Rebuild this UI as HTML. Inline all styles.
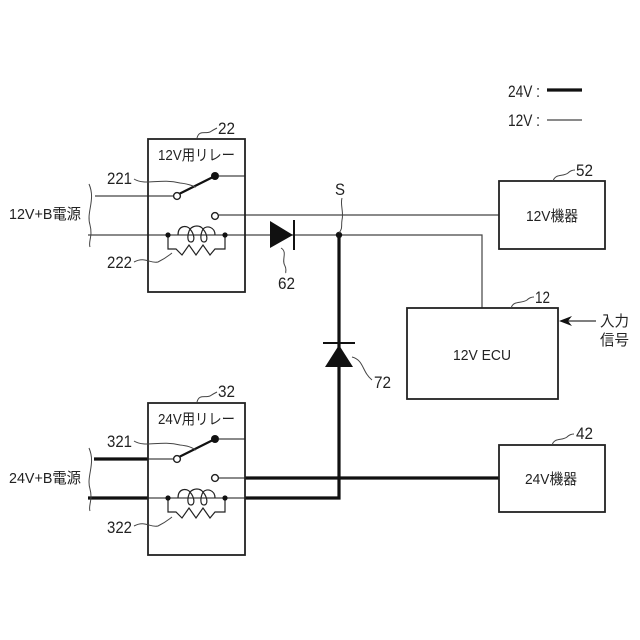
<!DOCTYPE html>
<html>
<head>
<meta charset="utf-8">
<style>
html,body{margin:0;padding:0;background:#fff;width:640px;height:640px;overflow:hidden}
svg{display:block}
text{font-family:"Liberation Sans","Noto Sans CJK JP",sans-serif;font-size:17px;fill:#222}
text.c{font-size:15px}
</style>
</head>
<body>
<svg width="640" height="640" viewBox="0 0 640 640" xmlns="http://www.w3.org/2000/svg">
<defs>
<g id="coil" fill="none" stroke="#222" stroke-width="1.2">
<path d="M168 235V249H176L182 255L189 245L196 255L203 245L210 255L215 249H225V235"/>
<path d="M178 235C178 225 187 225 190 229C187 235 187 242 191 242C195 242 195 235 190 229C194 225 200 225 203 229C200 235 200 242 204 242C208 242 208 235 203 229C207 225 215 227 215 235"/>
</g>
</defs>

<!-- thin wires -->
<g fill="none" stroke="#444" stroke-width="1.2">
<path d="M95 196H174"/>
<path d="M219 176H245"/>
<path d="M219 215H499"/>
<path d="M88 235H482V308"/>
<path d="M148 459H174"/>
<path d="M219 439H245"/>
<path d="M219 478H245"/>
<path d="M148 498H245"/>
<path d="M547 120H582"/>
<path d="M565 321H596" stroke="#333"/>
</g>

<!-- thick wires -->
<g fill="none" stroke="#111" stroke-width="3.2">
<path d="M94 459H148"/>
<path d="M88 498H148"/>
<path d="M245 498H339V235"/>
<path d="M245 478H499"/>
<path d="M547 90H582"/>
</g>

<!-- boxes -->
<g fill="none" stroke="#222" stroke-width="1.8">
<rect x="148" y="139" width="97" height="153"/>
<rect x="148" y="403" width="97" height="152"/>
<rect x="499" y="181" width="106" height="68"/>
<rect x="407" y="308" width="151" height="91"/>
<rect x="499" y="445" width="106" height="67"/>
</g>

<!-- relay 22 contents -->
<path d="M179 194L215 176" stroke="#111" stroke-width="2.2" fill="none"/>
<circle cx="177" cy="196" r="3.4" fill="#fff" stroke="#222" stroke-width="1.4"/>
<circle cx="215" cy="176" r="4" fill="#111"/>
<circle cx="215" cy="216" r="3.4" fill="#fff" stroke="#222" stroke-width="1.4"/>
<use href="#coil"/>
<circle cx="168" cy="235" r="2.6" fill="#111"/>
<circle cx="225" cy="235" r="2.6" fill="#111"/>

<!-- relay 32 contents -->
<path d="M179 457L215 439" stroke="#111" stroke-width="2.2" fill="none"/>
<circle cx="177" cy="459" r="3.4" fill="#fff" stroke="#222" stroke-width="1.4"/>
<circle cx="215" cy="439" r="4" fill="#111"/>
<circle cx="215" cy="478" r="3.4" fill="#fff" stroke="#222" stroke-width="1.4"/>
<use href="#coil" y="263"/>
<circle cx="168" cy="498" r="2.6" fill="#111"/>
<circle cx="225" cy="498" r="2.6" fill="#111"/>

<!-- diodes -->
<polygon points="270,221 270,248 293,235" fill="#111"/>
<path d="M294 220V250" stroke="#111" stroke-width="2"/>
<circle cx="339" cy="235" r="3.2" fill="#111"/>
<polygon points="325,367 353,367 339,345" fill="#111"/>
<path d="M323 343H355" stroke="#111" stroke-width="2"/>

<!-- input arrow -->
<polygon points="559,321 572,316 568,321 572,326" fill="#111"/>

<!-- leader lines & braces -->
<g fill="none" stroke="#444" stroke-width="1">
<path d="M89 184C96 200 86 212 90 225C93 236 88 242 90 247"/>
<path d="M89 448C96 464 86 476 90 489C93 500 88 506 90 511"/>
<path d="M197 138C199 130 205 134 210 132C213 130 215 129 217 128"/>
<path d="M197 402C199 394 205 398 210 396C213 394 215 393 217 392"/>
<path d="M134 179C145 186 160 178 180 183C190 184 192 186 196 187"/>
<path d="M134 441C145 448 160 440 180 445C190 446 192 448 196 450"/>
<path d="M134 262C145 256 150 264 158 262C166 258 168 256 172 253"/>
<path d="M134 526C145 520 150 528 158 526C166 522 168 520 172 517"/>
<path d="M281 248C288 252 281 260 285 266C287 270 285 272 286 273"/>
<path d="M342 198C340 205 344 212 342 220C341 226 343 228 339 233"/>
<path d="M352 357C364 360 362 372 372 380"/>
<path d="M553 181C556 173 563 177 568 173C570 171 572 170 575 170"/>
<path d="M511 308C514 300 521 304 527 300C529 298 531 297 534 297"/>
<path d="M552 445C555 437 562 441 567 437C569 435 571 434 574 434"/>
</g>

<!-- labels -->
<g>
<text x="218" y="134" textLength="17" lengthAdjust="spacingAndGlyphs">22</text>
<text class="c" x="158" y="160" textLength="77" lengthAdjust="spacingAndGlyphs">12V用リレー</text>
<text x="107" y="184" textLength="25" lengthAdjust="spacingAndGlyphs">221</text>
<text x="107" y="268" textLength="25" lengthAdjust="spacingAndGlyphs">222</text>
<text class="c" x="9" y="219" textLength="72" lengthAdjust="spacingAndGlyphs">12V+B電源</text>
<text x="278" y="289" textLength="17" lengthAdjust="spacingAndGlyphs">62</text>
<text x="335" y="195" textLength="10" lengthAdjust="spacingAndGlyphs">S</text>
<text x="374" y="388" textLength="17" lengthAdjust="spacingAndGlyphs">72</text>
<text x="218" y="397" textLength="17" lengthAdjust="spacingAndGlyphs">32</text>
<text class="c" x="158" y="424" textLength="77" lengthAdjust="spacingAndGlyphs">24V用リレー</text>
<text x="107" y="447" textLength="25" lengthAdjust="spacingAndGlyphs">321</text>
<text x="107" y="533" textLength="25" lengthAdjust="spacingAndGlyphs">322</text>
<text class="c" x="9" y="483" textLength="72" lengthAdjust="spacingAndGlyphs">24V+B電源</text>
<text x="508" y="97" textLength="32" lengthAdjust="spacingAndGlyphs">24V :</text>
<text x="508" y="126" textLength="32" lengthAdjust="spacingAndGlyphs">12V :</text>
<text x="576" y="176" textLength="17" lengthAdjust="spacingAndGlyphs">52</text>
<text class="c" x="526" y="221" textLength="52" lengthAdjust="spacingAndGlyphs">12V機器</text>
<text x="535" y="303" textLength="15" lengthAdjust="spacingAndGlyphs">12</text>
<text class="c" x="453" y="360" textLength="58" lengthAdjust="spacingAndGlyphs">12V ECU</text>
<text class="c" x="600" y="326" textLength="29" lengthAdjust="spacingAndGlyphs">入力</text>
<text class="c" x="600" y="345" textLength="29" lengthAdjust="spacingAndGlyphs">信号</text>
<text x="576" y="439" textLength="17" lengthAdjust="spacingAndGlyphs">42</text>
<text class="c" x="525" y="484" textLength="52" lengthAdjust="spacingAndGlyphs">24V機器</text>
</g>
</svg>
</body>
</html>
